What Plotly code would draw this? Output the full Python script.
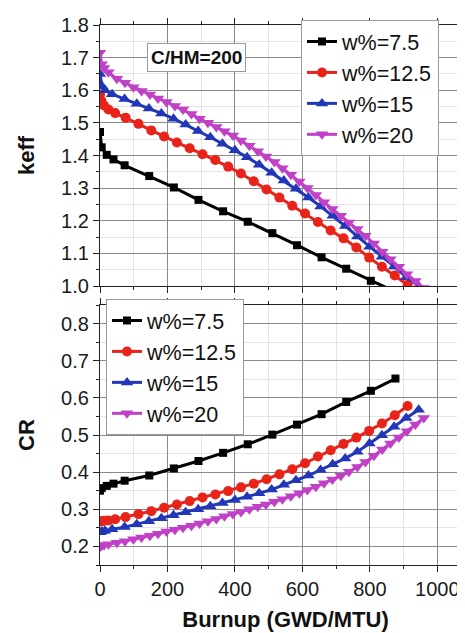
import plotly.graph_objects as go

# ---------------- data ----------------
names = ["w%=7.5", "w%=12.5", "w%=15", "w%=20"]

bu_75 = [0, 5, 20, 40, 73, 146, 219, 292, 365, 438, 511, 584, 657, 730, 803, 876]
keff_75 = [1.472, 1.425, 1.402, 1.388, 1.370, 1.337, 1.302, 1.264, 1.229, 1.197,
           1.162, 1.125, 1.088, 1.053, 1.016, 0.982]
cr_75 = [0.350, 0.357, 0.363, 0.369, 0.377, 0.391, 0.410, 0.430, 0.452, 0.475,
         0.501, 0.528, 0.556, 0.589, 0.619, 0.652]

bu_125 = [0, 4, 12, 25, 45, 76, 114, 152, 190, 228, 266, 304, 342, 380, 418, 456,
          494, 532, 570, 608, 646, 684, 722, 760, 798, 836, 874, 912]
keff_125 = [1.587, 1.568, 1.553, 1.541, 1.530, 1.516, 1.497, 1.477, 1.458, 1.440,
            1.422, 1.404, 1.386, 1.366, 1.345, 1.321, 1.296, 1.271, 1.246, 1.222,
            1.196, 1.170, 1.146, 1.118, 1.087, 1.059, 1.032, 1.004]
cr_125 = [0.268, 0.268, 0.269, 0.270, 0.273, 0.279, 0.287, 0.295, 0.304, 0.313,
          0.322, 0.332, 0.340, 0.349, 0.359, 0.369, 0.381, 0.394, 0.408, 0.424,
          0.442, 0.459, 0.476, 0.493, 0.511, 0.531, 0.553, 0.578]

bu_15 = [0, 6, 15, 36, 73, 109, 145, 182, 218, 254, 291, 327, 363, 400, 436, 472,
         509, 545, 581, 618, 654, 690, 727, 763, 799, 836, 872, 908, 945]
keff_15 = [1.650, 1.612, 1.600, 1.588, 1.573, 1.559, 1.544, 1.529, 1.513, 1.495,
           1.475, 1.456, 1.436, 1.416, 1.395, 1.372, 1.347, 1.323, 1.298, 1.271,
           1.244, 1.215, 1.184, 1.152, 1.120, 1.090, 1.060, 1.027, 0.999]
cr_15 = [0.238, 0.240, 0.242, 0.246, 0.252, 0.260, 0.268, 0.276, 0.284, 0.292,
         0.300, 0.308, 0.317, 0.325, 0.334, 0.343, 0.353, 0.366, 0.378, 0.391,
         0.406, 0.421, 0.437, 0.455, 0.477, 0.499, 0.522, 0.546, 0.568]

bu_20 = [0, 5, 12, 25, 50, 74, 99, 123, 148, 172, 197, 222, 246, 271, 295, 320,
         345, 369, 394, 418, 443, 468, 492, 517, 541, 566, 591, 615, 640, 664,
         689, 714, 738, 763, 787, 812, 837, 861, 886, 910, 935, 960]
keff_20 = [1.715, 1.680, 1.668, 1.655, 1.635, 1.623, 1.609, 1.598, 1.587, 1.575,
           1.564, 1.552, 1.541, 1.527, 1.513, 1.500, 1.487, 1.474, 1.461, 1.446,
           1.430, 1.413, 1.397, 1.380, 1.361, 1.341, 1.320, 1.300, 1.279, 1.257,
           1.236, 1.215, 1.195, 1.175, 1.154, 1.130, 1.105, 1.082, 1.059, 1.036,
           1.015, 0.994]
cr_20 = [0.200, 0.202, 0.204, 0.206, 0.210, 0.214, 0.219, 0.224, 0.229, 0.234,
         0.240, 0.245, 0.250, 0.256, 0.262, 0.268, 0.274, 0.281, 0.287, 0.293,
         0.300, 0.307, 0.313, 0.320, 0.327, 0.335, 0.343, 0.352, 0.361, 0.370,
         0.380, 0.390, 0.401, 0.414, 0.427, 0.444, 0.461, 0.477, 0.493, 0.510,
         0.528, 0.546]

x_ticks = [0, 200, 400, 600, 800, 1000]
keff_ticks = [1.0, 1.1, 1.2, 1.3, 1.4, 1.5, 1.6, 1.7, 1.8]
cr_ticks = [0.2, 0.3, 0.4, 0.5, 0.6, 0.7, 0.8]

# ---------------- style ----------------
colors = ["#000000", "#e8231a", "#2236b8", "#c040c8"]
symbols = ["square", "circle", "triangle-up", "triangle-down"]
msizes = [8, 10, 11, 11]
FONT = "Liberation Sans, Arial, sans-serif"

series = [
    (bu_75, keff_75, cr_75),
    (bu_125, keff_125, cr_125),
    (bu_15, keff_15, cr_15),
    (bu_20, keff_20, cr_20),
]

fig = go.Figure()
for i, (bu, kf, cr) in enumerate(series):
    common = dict(mode="lines+markers", name=names[i],
                  line=dict(color=colors[i], width=3),
                  marker=dict(symbol=symbols[i], size=msizes[i], color=colors[i]))
    fig.add_trace(go.Scatter(x=bu, y=kf, xaxis="x", yaxis="y", legend="legend",
                             cliponaxis=True, **common))
    fig.add_trace(go.Scatter(x=bu, y=cr, xaxis="x2", yaxis="y2", legend="legend2",
                             cliponaxis=True, **common))

W, H = 465, 633
xdom = [92 / W, 463 / W]
top_dom = [1 - 278 / H, 1 - 17 / H]
bot_dom = [1 - 557 / H, 1 - 297 / H]

axis_common = dict(
    showline=True, linecolor="#222", linewidth=1.2, mirror="ticks",
    ticks="outside", ticklen=6, tickcolor="#222", tickwidth=1,
    showgrid=True, gridcolor="#8a8a8a", gridwidth=1, zeroline=False,
    automargin=False,
    tickfont=dict(family=FONT, size=20, color="#1a1a1a"),
)
minor_x = dict(dtick=100, ticks="outside", ticklen=3, tickcolor="#222",
               showgrid=True, gridcolor="#e4e4e4", gridwidth=1)
minor_y = dict(dtick=0.05, ticks="outside", ticklen=3, tickcolor="#222",
               showgrid=True, gridcolor="#e4e4e4", gridwidth=1)

fig.update_layout(
    width=W, height=H,
    margin=dict(l=0, r=0, t=0, b=0, autoexpand=False),
    paper_bgcolor="white", plot_bgcolor="white",
    font=dict(family=FONT, size=20, color="#111"),
    xaxis=dict(domain=xdom, anchor="y", range=[0, 1100], tickvals=x_ticks,
               showticklabels=False, minor=minor_x, **axis_common),
    yaxis=dict(domain=top_dom, anchor="x", range=[1.0, 1.8], tickvals=keff_ticks,
               tickformat=".1f", minor=minor_y,
               title=dict(text="<b>keff</b>", font=dict(family=FONT, size=22), standoff=20),
               **axis_common),
    xaxis2=dict(domain=xdom, anchor="y2", range=[0, 1100], tickvals=x_ticks,
                minor=minor_x,
                title=dict(text="<b>Burnup (GWD/MTU)</b>", font=dict(family=FONT, size=22),
                           standoff=12),
                **axis_common),
    yaxis2=dict(domain=bot_dom, anchor="x2", range=[0.15, 0.85], tickvals=cr_ticks,
                tickformat=".1f", minor=minor_y,
                title=dict(text="<b>CR</b>", font=dict(family=FONT, size=22), standoff=20),
                **axis_common),
    legend=dict(x=293 / W, y=1 - 12 / H, xanchor="left", yanchor="top",
                bgcolor="white", bordercolor="#9a9a9a", borderwidth=1,
                font=dict(family=FONT, size=21.5, color="#111"), tracegroupgap=0),
    legend2=dict(x=98 / W, y=1 - 291 / H, xanchor="left", yanchor="top",
                 bgcolor="white", bordercolor="#9a9a9a", borderwidth=1,
                 font=dict(family=FONT, size=21.5, color="#111"), tracegroupgap=0),
    annotations=[dict(text="<b>C/HM=200</b>", x=188 / W, y=1 - 35 / H,
                      xref="paper", yref="paper", showarrow=False,
                      font=dict(family=FONT, size=19, color="#111"),
                      bgcolor="white", bordercolor="#9a9a9a", borderwidth=1,
                      borderpad=3)],
)

fig.write_html("out.html")
